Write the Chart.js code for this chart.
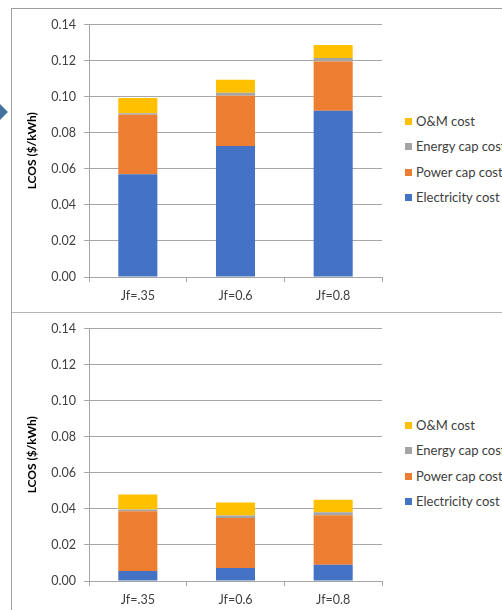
<!DOCTYPE html>
<html>
<head>
<meta charset="utf-8">
<script src="https://cdn.jsdelivr.net/npm/chart.js@4"></script>
<style>
  html, body { margin: 0; padding: 0; background: #fff; }
  body { width: 502px; height: 610px; overflow: hidden; position: relative; font-family: Lato, "Noto Sans", sans-serif; }
  .panel { position: absolute; left: 11px; width: 560px; border-left: 1px solid #a0a0a0; }
  #panelTop { top: 8px; height: 303px; border-top: 1px solid #a0a0a0; }
  #panelBottom { top: 312px; height: 303px; border-top: 1px solid #b4b4b4; }
  .panel canvas { position: absolute; left: 0; top: 0; }
  .legend { position: absolute; left: 393px; top: 105px; }
  .legend div { height: 25.4px; line-height: 15px; font-size: 13px; color: #404040; white-space: nowrap; }
  .legend span { display: inline-block; width: 7px; height: 7px; margin-right: 4px; vertical-align: 1px; }
  #arrow { position: absolute; left: -9px; top: 105px; width: 14px; height: 14px; background: #41719c; transform: rotate(45deg); }
</style>
</head>
<body>
<div id="arrow"></div>
<div class="panel" id="panelTop"><canvas id="chartTop" width="380" height="303"></canvas><div class="legend" id="legendTop"></div></div>
<div class="panel" id="panelBottom"><canvas id="chartBottom" width="380" height="303"></canvas><div class="legend" id="legendBottom"></div></div>
<script>
// === Data ===
const categories = ["Jf=.35", "Jf=0.6", "Jf=0.8"];
const seriesNames = ["Electricity cost", "Power cap cost", "Energy cap cost", "O&M cost"];
const yTicks = [0, 0.02, 0.04, 0.06, 0.08, 0.10, 0.12, 0.14];

// top chart
const electricityTop = [0.0570, 0.0727, 0.0922];
const powerTop = [0.0330, 0.0278, 0.0273];
const energyTop = [0.0008, 0.0017, 0.0019];
const omTop = [0.0085, 0.0072, 0.0072];

// bottom chart
const electricityBottom = [0.0055, 0.0072, 0.0090];
const powerBottom = [0.0332, 0.0278, 0.0275];
const energyBottom = [0.0009, 0.0013, 0.0016];
const omBottom = [0.0083, 0.0072, 0.0070];

const seriesColors = ["#4472c4", "#ed7d31", "#a5a5a5", "#ffc000"];
const gridColor = "#a6a6a6";
const textColor = "#404040";

// === Legend (HTML, reversed like Excel) ===
function buildLegend(id) {
  const el = document.getElementById(id);
  el.innerHTML = "";
  seriesNames.slice().reverse().forEach((name, i) => {
    const c = seriesColors[seriesNames.length - 1 - i];
    el.innerHTML += `<div><span style="background:${c}"></span>${name}</div>`;
  });
}

// === Chart ===
function makeChart(canvasId, series, topPad) {
  const ctx = document.getElementById(canvasId).getContext("2d");
  return new Chart(ctx, {
    type: "bar",
    data: {
      labels: categories,
      datasets: series.map((vals, i) => ({
        label: seriesNames[i],
        data: vals,
        backgroundColor: seriesColors[i],
        borderWidth: 0,
        barPercentage: 0.4,
        categoryPercentage: 1.0
      }))
    },
    options: {
      responsive: false,
      animation: false,
      layout: { padding: { top: topPad, right: 10, left: 0, bottom: 0 } },
      plugins: {
        legend: { display: false },
        tooltip: { enabled: false }
      },
      scales: {
        x: {
          stacked: true,
          afterFit: s => { s.height = 35; },
          grid: { color: gridColor, drawOnChartArea: false, tickLength: 5, offset: true },
          border: { color: gridColor },
          ticks: { color: textColor, font: { family: "Lato", size: 12.5 }, padding: 6 }
        },
        y: {
          stacked: true,
          min: 0,
          max: 0.14,
          afterFit: s => { s.width = 77; },
          afterBuildTicks: s => { s.ticks = yTicks.map(v => ({ value: v })); },
          grid: { color: gridColor, tickLength: 5 },
          border: { color: gridColor },
          ticks: {
            color: textColor,
            font: { family: "Lato", size: 12.5 },
            padding: 8,
            callback: v => Number(v).toFixed(2)
          },
          title: {
            display: true,
            text: "LCOS ($/kWh)",
            color: "#000",
            font: { family: "Lato", size: 12, weight: "bold" },
            padding: { top: 13, bottom: 0 }
          }
        }
      }
    }
  });
}

buildLegend("legendTop");
buildLegend("legendBottom");
makeChart("chartTop", [electricityTop, powerTop, energyTop, omTop], 15);
makeChart("chartBottom", [electricityBottom, powerBottom, energyBottom, omBottom], 14);
</script>
</body>
</html>
